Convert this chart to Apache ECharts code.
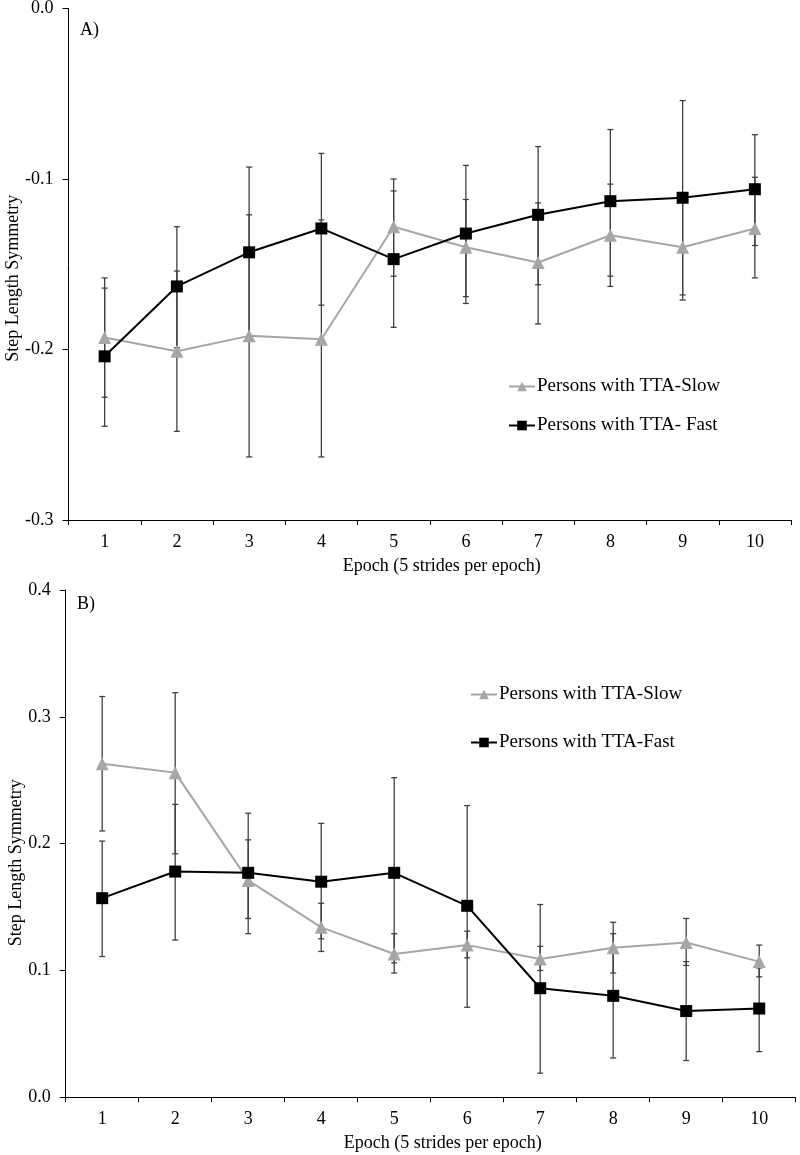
<!DOCTYPE html>
<html>
<head>
<meta charset="utf-8">
<script src="https://cdn.jsdelivr.net/npm/echarts@6/dist/echarts.min.js"></script>
<style>
html,body{margin:0;padding:0;background:#fff;}
#chart{width:800px;height:1155px;}
</style>
</head>
<body>
<div id="chart"></div>
<script>
// ---------- data ----------
const categories = ['1','2','3','4','5','6','7','8','9','10'];

// Panel A
const slowA    = [-0.193, -0.201, -0.192, -0.194, -0.128, -0.140, -0.149, -0.133, -0.140, -0.129];
const slowA_hi = [-0.164, -0.154, -0.121, -0.124, -0.100, -0.112, -0.114, -0.103, -0.108, -0.099];
const slowA_lo = [-0.228, -0.248, -0.263, -0.263, -0.157, -0.169, -0.185, -0.163, -0.171, -0.158];
const fastA    = [-0.204, -0.163, -0.143, -0.129, -0.147, -0.132, -0.121, -0.113, -0.111, -0.106];
const fastA_hi = [-0.158, -0.128, -0.093, -0.085, -0.107, -0.092, -0.081, -0.071, -0.054, -0.074];
const fastA_lo = [-0.245, -0.199, -0.193, -0.174, -0.187, -0.173, -0.162, -0.157, -0.168, -0.139];

// Panel B
const slowB    = [0.263, 0.256, 0.171, 0.134, 0.113, 0.120, 0.109, 0.118, 0.122, 0.107];
const slowB_hi = [0.316, 0.319, 0.203, 0.153, 0.129, 0.131, 0.119, 0.138, 0.141, 0.120];
const slowB_lo = [0.210, 0.192, 0.141, 0.115, 0.098, 0.110, 0.100, 0.098, 0.104, 0.095];
const fastB    = [0.157, 0.178, 0.177, 0.170, 0.177, 0.151, 0.086, 0.080, 0.068, 0.070];
const fastB_hi = [0.202, 0.231, 0.224, 0.216, 0.252, 0.230, 0.152, 0.129, 0.107, 0.102];
const fastB_lo = [0.111, 0.124, 0.129, 0.125, 0.106, 0.071, 0.019, 0.031, 0.029, 0.036];

const yRangeA = {min: -0.3, max: 0.0, interval: 0.1};
const yRangeB = {min: 0.0, max: 0.4, interval: 0.1};

const legendA = ['Persons with TTA-Slow', 'Persons with TTA- Fast'];
const legendB = ['Persons with TTA-Slow ', 'Persons with TTA-Fast'];

const xTitle = 'Epoch (5 strides per epoch)';
const yTitle = 'Step Length Symmetry';

// ---------- styling ----------
const FONT = "'Liberation Serif', 'Times New Roman', serif";
const SLOW_COLOR = '#a6a6a6';
const FAST_COLOR = '#000000';
const ERR_COLOR = '#404040';

function errData(lo, hi) {
  return lo.map((v, i) => [i, v, hi[i]]);
}
function errRender(params, api) {
  const x = api.value(0);
  const a = api.coord([x, api.value(1)]);
  const b = api.coord([x, api.value(2)]);
  const w = 3;
  const st = {stroke: ERR_COLOR, lineWidth: 1.3};
  return {
    type: 'group',
    children: [
      {type: 'line', shape: {x1: a[0], y1: a[1], x2: b[0], y2: b[1]}, style: st},
      {type: 'line', shape: {x1: a[0] - w, y1: a[1], x2: a[0] + w, y2: a[1]}, style: st},
      {type: 'line', shape: {x1: b[0] - w, y1: b[1], x2: b[0] + w, y2: b[1]}, style: st}
    ]
  };
}

function xAxis(gridIndex) {
  return {
    type: 'category', gridIndex: gridIndex, data: categories, boundaryGap: true,
    axisLine: {onZero: false, lineStyle: {color: '#000', width: 1}},
    axisTick: {show: true, inside: false, length: 5, alignWithLabel: false, lineStyle: {color: '#000'}},
    axisLabel: {color: '#000', fontFamily: FONT, fontSize: 18, margin: 13},
    splitLine: {show: false},
    name: xTitle, nameLocation: 'middle', nameGap: 37, nameMoveOverlap: false,
    nameTextStyle: {color: '#000', fontFamily: FONT, fontSize: 18, padding: [0, 0, 0, 24]}
  };
}
function yAxis(gridIndex, r, gap, pad) {
  return {
    type: 'value', gridIndex: gridIndex, min: r.min, max: r.max, interval: r.interval,
    axisLine: {show: true, onZero: false, lineStyle: {color: '#000', width: 1}},
    axisTick: {show: true, inside: false, length: 6, lineStyle: {color: '#000'}},
    axisLabel: {color: '#000', fontFamily: FONT, fontSize: 18, margin: 15,
      formatter: v => (Math.abs(v) < 1e-9 ? 0 : v).toFixed(1)},
    splitLine: {show: false},
    name: yTitle, nameLocation: 'middle', nameGap: gap, nameRotate: 90, nameMoveOverlap: false,
    nameTextStyle: {color: '#000', fontFamily: FONT, fontSize: 18, padding: [0, pad, 0, 0]}
  };
}

function lineSeries(name, data, xi, color, symbol, size) {
  return {
    type: 'line', name: name, xAxisIndex: xi, yAxisIndex: xi, data: data,
    symbol: symbol, symbolSize: size, showAllSymbol: true,
    lineStyle: {color: color, width: 2},
    itemStyle: {color: color, borderWidth: 0},
    z: 3, animation: false
  };
}
function errSeries(name, lo, hi, xi) {
  return {
    type: 'custom', name: name, xAxisIndex: xi, yAxisIndex: xi,
    data: errData(lo, hi), renderItem: errRender,
    encode: {x: 0, y: [1, 2]}, z: 2, silent: true, animation: false
  };
}

const chart = echarts.init(document.getElementById('chart'), null, {renderer: 'canvas'});
chart.setOption({
  backgroundColor: '#ffffff',
  animation: false,
  textStyle: {fontFamily: FONT},
  grid: [
    {left: 68.5, top: 8.5, width: 722.5, height: 511.5, containLabel: false, outerBoundsMode: 'none'},
    {left: 65.7, top: 590, width: 730, height: 507.3, containLabel: false, outerBoundsMode: 'none'}
  ],
  xAxis: [xAxis(0), xAxis(1)],
  yAxis: [yAxis(0, yRangeA, 46, 28), yAxis(1, yRangeB, 40, 38)],
  legend: [
    {data: legendA, orient: 'vertical', left: 503, top: 372, itemGap: 20,
     itemWidth: 26, itemHeight: 12, textStyle: {color: '#000', fontFamily: FONT, fontSize: 19, padding: [0,0,0,-3]},
     selectedMode: false},
    {data: legendB, orient: 'vertical', left: 465, top: 680, itemGap: 29,
     itemWidth: 26, itemHeight: 12, textStyle: {color: '#000', fontFamily: FONT, fontSize: 19, padding: [0,0,0,-3]},
     selectedMode: false}
  ],
  graphic: [
    {type: 'text', left: 80, top: 21, style: {text: 'A)', fill: '#000', font: '18px ' + FONT}},
    {type: 'text', left: 77, top: 595, style: {text: 'B)', fill: '#000', font: '18px ' + FONT}}
  ],
  series: [
    errSeries('errSlowA', slowA_lo, slowA_hi, 0),
    errSeries('errFastA', fastA_lo, fastA_hi, 0),
    lineSeries(legendA[0], slowA, 0, SLOW_COLOR, 'triangle', 13),
    lineSeries(legendA[1], fastA, 0, FAST_COLOR, 'rect', 12),
    errSeries('errSlowB', slowB_lo, slowB_hi, 1),
    errSeries('errFastB', fastB_lo, fastB_hi, 1),
    lineSeries(legendB[0], slowB, 1, SLOW_COLOR, 'triangle', 13),
    lineSeries(legendB[1], fastB, 1, FAST_COLOR, 'rect', 12)
  ]
});
</script>
</body>
</html>
